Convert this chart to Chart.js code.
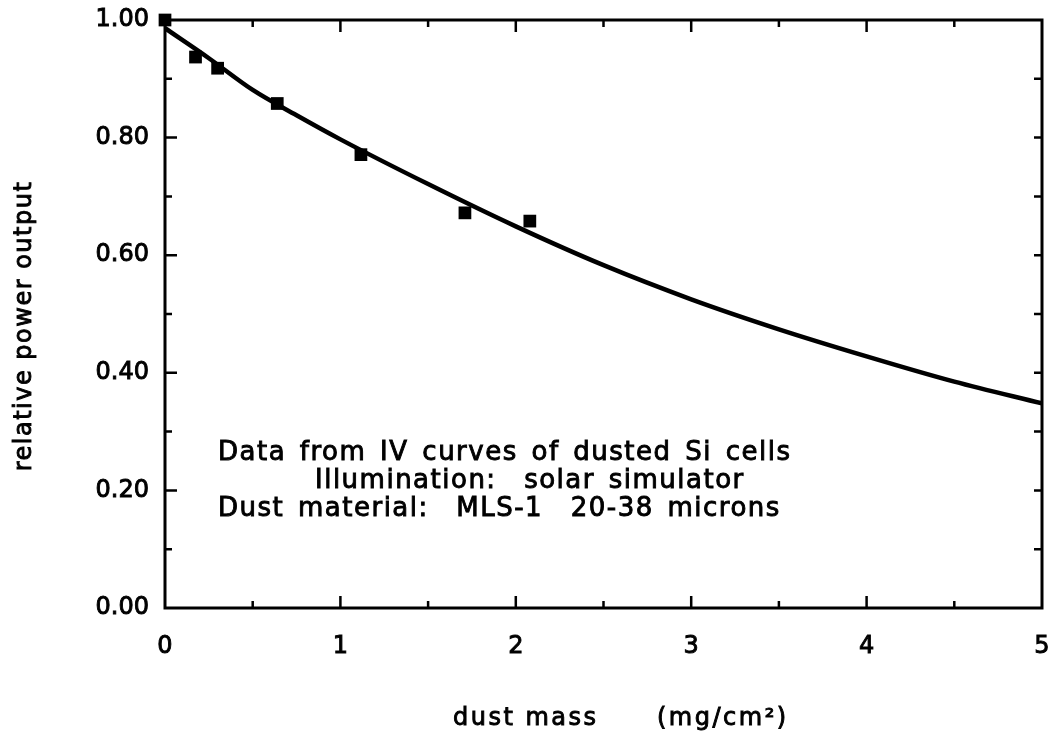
<!DOCTYPE html>
<html>
<head>
<meta charset="utf-8">
<script src="https://cdn.jsdelivr.net/npm/chart.js@4/dist/chart.umd.min.js"></script>
<style>
	html, body { margin: 0; padding: 0; background: #fff; }
	#wrap { width: 1051px; height: 736px; }
</style>
</head>
<body>
<div id="wrap"><canvas id="chart"></canvas></div>
<script>
const measuredMass = [0, 0.174, 0.30, 0.64, 1.117, 1.71, 2.08];
const measuredPower = [1.00, 0.937, 0.918, 0.858, 0.771, 0.672, 0.658];

const fitMass = [0, 0.25, 0.5, 0.75, 1, 1.5, 2, 2.5, 3, 3.5, 4, 4.5, 5];
const fitPower = [0.986, 0.935, 0.881, 0.838, 0.797, 0.721, 0.649, 0.583, 0.525, 0.474, 0.428, 0.385, 0.348];

const xTicks = [0, 1, 2, 3, 4, 5];
const yTicks = [0, 0.2, 0.4, 0.6, 0.8, 1.0];

const notes = [
	'Data from IV curves of dusted Si cells',
	'Illumination:  solar simulator',
	'Dust material:  MLS-1  20-38 microns'
];
const xTitle = ['dust mass', '(mg/cm\u00B2)'];
const yTitle = 'relative power output';

const FONT = '"DejaVu Sans", sans-serif';

// fill + thin stroke, the scanned plotter lettering is heavier than a normal weight
function heavyText(ctx, text, x, y) {
	ctx.strokeText(text, x, y);
	ctx.fillText(text, x, y);
}

const frame = {
	id: 'frame',
	beforeInit(chart) {
		chart.ctx.letterSpacing = '2px';
	},
	beforeDatasetsDraw(chart) {
		const { ctx, chartArea: a, scales: { x, y } } = chart;
		ctx.save();
		ctx.strokeStyle = '#000';
		ctx.lineWidth = 3;
		ctx.strokeRect(a.left, a.top, a.right - a.left, a.bottom - a.top);

		// inward ticks on all four sides
		ctx.lineWidth = 2.5;
		ctx.beginPath();
		for (let v = 0.5; v < 5; v += 0.5) {
			const px = x.getPixelForValue(v);
			const len = v % 1 === 0 ? 12 : 7;
			ctx.moveTo(px, a.bottom); ctx.lineTo(px, a.bottom - len);
			ctx.moveTo(px, a.top); ctx.lineTo(px, a.top + len);
		}
		for (let i = 1; i < 10; i++) {
			const py = y.getPixelForValue(i / 10);
			const len = i % 2 === 0 ? 12 : 7;
			ctx.moveTo(a.left, py); ctx.lineTo(a.left + len, py);
			ctx.moveTo(a.right, py); ctx.lineTo(a.right - 8, py);
		}
		ctx.stroke();
		ctx.restore();
	},
	afterDraw(chart) {
		const ctx = chart.ctx;
		ctx.save();
		ctx.fillStyle = '#000';
		ctx.strokeStyle = '#000';
		ctx.lineWidth = 0.9;
		ctx.textBaseline = 'alphabetic';
		ctx.textAlign = 'left';

		ctx.font = '26px ' + FONT;
		ctx.letterSpacing = '1.5px';
		ctx.wordSpacing = '4px';
		const noteX = [218, 315, 218];
		const noteY = [460, 488, 516];
		notes.forEach((t, i) => heavyText(ctx, t, noteX[i], noteY[i]));

		ctx.font = '24px ' + FONT;
		ctx.letterSpacing = '2.5px';
		ctx.wordSpacing = '0px';
		heavyText(ctx, xTitle[0], 453, 725);
		heavyText(ctx, xTitle[1], 657, 725);

		ctx.letterSpacing = '1.5px';
		ctx.translate(25, 326);
		ctx.rotate(-Math.PI / 2);
		ctx.textAlign = 'center';
		ctx.textBaseline = 'middle';
		heavyText(ctx, yTitle, 0, 0);
		ctx.restore();
	}
};

new Chart(document.getElementById('chart'), {
	type: 'scatter',
	data: {
		datasets: [{
			label: 'fit',
			type: 'line',
			data: fitMass.map((m, i) => ({ x: m, y: fitPower[i] })),
			borderColor: '#000',
			borderWidth: 4.5,
			pointRadius: 0,
			cubicInterpolationMode: 'monotone',
			fill: false
		},{
			label: 'measured',
			data: measuredMass.map((m, i) => ({ x: m, y: measuredPower[i] })),
			pointStyle: 'rect',
			pointRadius: 9,
			backgroundColor: '#000',
			borderColor: '#000',
			borderWidth: 0,
			clip: false
		}]
	},
	options: {
		responsive: true,
		maintainAspectRatio: false,
		animation: false,
		layout: { padding: { top: 20, right: 7, left: 0, bottom: 0 } },
		plugins: {
			legend: { display: false },
			tooltip: { enabled: false }
		},
		scales: {
			x: {
				type: 'linear',
				min: 0,
				max: 5,
				afterFit: s => {
					s.height = 128;
					s.paddingLeft = 0;
					s.paddingRight = 0;
				},
				afterBuildTicks: s => { s.ticks = xTicks.map(v => ({ value: v })); },
				grid: { display: false, drawTicks: false },
				border: { display: false },
				ticks: {
					color: '#000',
					textStrokeColor: '#000',
					textStrokeWidth: 0.9,
					padding: 24,
					maxRotation: 0,
					font: { family: FONT, size: 24 },
					callback: v => String(v)
				}
			},
			y: {
				type: 'linear',
				min: 0,
				max: 1,
				afterFit: s => {
					s.width = 165;
					s.paddingTop = 0;
					s.paddingBottom = 0;
				},
				afterBuildTicks: s => { s.ticks = yTicks.map(v => ({ value: v })); },
				grid: { display: false, drawTicks: false },
				border: { display: false },
				ticks: {
					color: '#000',
					textStrokeColor: '#000',
					textStrokeWidth: 0.9,
					padding: 16,
					font: { family: FONT, size: 24 },
					callback: v => v.toFixed(2)
				}
			}
		}
	},
	plugins: [frame]
});
</script>
</body>
</html>
